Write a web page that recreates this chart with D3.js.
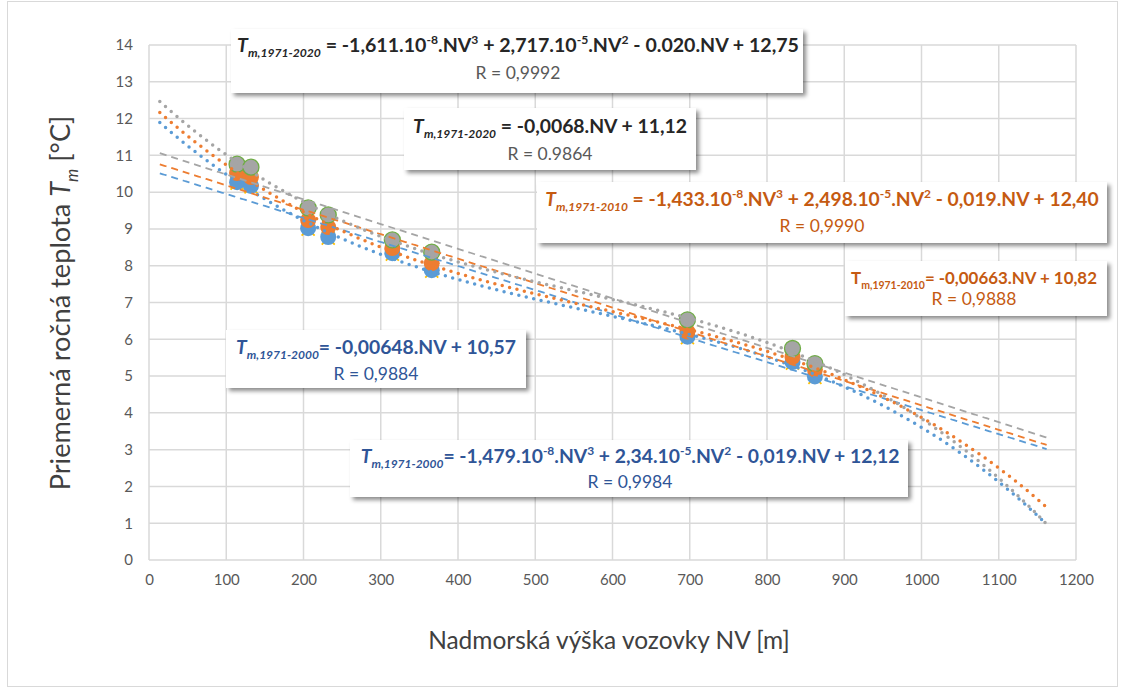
<!DOCTYPE html>
<html><head><meta charset="utf-8">
<script src="https://cdn.jsdelivr.net/npm/d3@7"></script>
<style>body{margin:0;background:#fff}svg{display:block}</style>
</head><body>
<svg id="chart" width="1125" height="688"></svg>
<script>
// ---------------- DATA ----------------
const NV = [114, 132, 206, 232, 315, 366, 697, 833, 862];
const T_1971_2000 = [10.27, 10.17, 9.02, 8.78, 8.34, 7.88, 6.07, 5.38, 4.99];
const T_1971_2010 = [10.52, 10.41, 9.24, 9.05, 8.48, 8.07, 6.21, 5.52, 5.18];
const T_1971_2020 = [10.76, 10.68, 9.57, 9.38, 8.70, 8.37, 6.53, 5.75, 5.34];
const xTicks = [0,100,200,300,400,500,600,700,800,900,1000,1100,1200];
const yTicks = [0,1,2,3,4,5,6,7,8,9,10,11,12,13,14];
const forecastBackward = 100, forecastForward = 300;

// equation labels (segments: text, italic flag, sub/sup)
const eqA = [["T","i"],["m,1971-2020","i","sub"],[" = -1,611.10"],["-8","","sup"],[".NV"],["3","","sup"],[" + 2,717.10"],["-5","","sup"],[".NV"],["2","","sup"],[" - 0.020.NV + 12,75"]];
const eqB = [["T","i"],["m,1971-2020","i","sub"],[" = -0,0068.NV + 11,12"]];
const eqC = [["T","i"],["m,1971-2010","i","sub"],[" = -1,433.10"],["-8","","sup"],[".NV"],["3","","sup"],[" + 2,498.10"],["-5","","sup"],[".NV"],["2","","sup"],[" - 0,019.NV + 12,40"]];
const eqD = [["T"],["m,1971-2010","","sub"],["= -0,00663.NV + 10,82"]];
const eqE = [["T","i"],["m,1971-2000","i","sub"],["= -0,00648.NV + 10,57"]];
const eqF = [["T","i"],["m,1971-2000","i","sub"],["= -1,479.10"],["-8","","sup"],[".NV"],["3","","sup"],[" + 2,34.10"],["-5","","sup"],[".NV"],["2","","sup"],[" - 0,019.NV + 12,12"]];
const rA = "R = 0,9992", rB = "R = 0.9864", rC = "R = 0,9990", rD = "R = 0,9888", rE = "R = 0,9884", rF = "R = 0,9984";
const xTitle = "Nadmorská výška vozovky NV [m]";
const yTitle = [["Priemerná ročná  teplota  "],["T","i"],["m","i","sub"],["  [°C]"]];

// ---------------- LAYOUT ----------------
const svg = d3.select("#chart");
const FONT = "Lato, 'Open Sans', sans-serif";
const x = d3.scaleLinear().domain([0,1200]).range([149,1076]);
const y = d3.scaleLinear().domain([0,14]).range([560,45]);
const BLUE="#5B9BD5", ORANGE="#ED7D31", GRAY="#A5A5A5", YELLOW="#FFC000", GREEN="#70AD47";

svg.append("rect").attr("x",7.5).attr("y",1.5).attr("width",1110).attr("height",685)
  .attr("fill","#fff").attr("stroke","#d9d9d9").attr("stroke-width",1);

const defs = svg.append("defs");
const f = defs.append("filter").attr("id","shadow").attr("x","-10%").attr("y","-20%").attr("width","130%").attr("height","160%");
f.append("feDropShadow").attr("dx",3).attr("dy",3).attr("stdDeviation",2).attr("flood-color","#000").attr("flood-opacity",0.45);

// grid
const g = svg.append("g");
g.selectAll(".hg").data(yTicks).join("line")
  .attr("x1",x(0)).attr("x2",x(1200)).attr("y1",d=>y(d)).attr("y2",d=>y(d))
  .attr("stroke","#d9d9d9").attr("stroke-width",1.5);
g.selectAll(".vg").data(xTicks).join("line").attr("class","vg")
  .attr("y1",y(0)).attr("y2",y(14)).attr("x1",d=>x(d)).attr("x2",d=>x(d))
  .attr("stroke","#d9d9d9").attr("stroke-width",1.5);

// axes
const yAxis = d3.axisLeft(y).tickValues(yTicks).tickSize(0).tickPadding(16).tickFormat(d3.format("d"));
const xAxis = d3.axisBottom(x).tickValues(xTicks).tickSize(0).tickPadding(14).tickFormat(d3.format("d"));
const ya = svg.append("g").attr("transform",`translate(${x(0)},0)`).call(yAxis);
const xa = svg.append("g").attr("transform",`translate(0,${y(0)})`).call(xAxis);
[ya,xa].forEach(a=>{a.select(".domain").remove();
  a.selectAll("text").attr("fill","#595959").style("font-family",FONT).style("font-size","15px");});

// markers
const pts = (arr)=>NV.map((v,i)=>[v,arr[i]]);
const mk = svg.append("g");
const R = 8;
mk.selectAll(".yx").data(pts(T_1971_2000)).join("path")
  .attr("d",d=>{const cx=x(d[0]),cy=y(d[1])+1,s=6.5;return `M${cx-s},${cy-s}L${cx+s},${cy+s}M${cx-s},${cy+s}L${cx+s},${cy-s}`;})
  .attr("stroke",YELLOW).attr("stroke-width",1.8);
mk.selectAll(".b").data(pts(T_1971_2000)).join("circle")
  .attr("cx",d=>x(d[0])).attr("cy",d=>y(d[1])).attr("r",R).attr("fill",BLUE);
mk.selectAll(".o").data(pts(T_1971_2010)).join("circle")
  .attr("cx",d=>x(d[0])).attr("cy",d=>y(d[1])).attr("r",R).attr("fill",ORANGE);
mk.selectAll(".gr").data(pts(T_1971_2020)).join("circle")
  .attr("cx",d=>x(d[0])).attr("cy",d=>y(d[1])).attr("r",R).attr("fill",GRAY)
  .attr("stroke",GREEN).attr("stroke-width",1.3);

// least squares polynomial trendlines
function polyfit(xs, ys, deg){
  const n=deg+1, A=[], B=[];
  const s=xs.map(v=>v/1000);
  for(let r=0;r<n;r++){A.push([]);for(let c=0;c<n;c++)A[r].push(d3.sum(s,v=>Math.pow(v,r+c)));B.push(d3.sum(s,(v,i)=>Math.pow(v,r)*ys[i]));}
  for(let i=0;i<n;i++){let p=i;for(let k=i+1;k<n;k++)if(Math.abs(A[k][i])>Math.abs(A[p][i]))p=k;
    [A[i],A[p]]=[A[p],A[i]];[B[i],B[p]]=[B[p],B[i]];
    for(let k=i+1;k<n;k++){const m=A[k][i]/A[i][i];for(let c=i;c<n;c++)A[k][c]-=m*A[i][c];B[k]-=m*B[i];}}
  const co=new Array(n).fill(0);
  for(let i=n-1;i>=0;i--){let sm=B[i];for(let c=i+1;c<n;c++)sm-=A[i][c]*co[c];co[i]=sm/A[i][i];}
  return v=>co.reduce((acc,c,k)=>acc+c*Math.pow(v/1000,k),0);
}
const x0 = d3.min(NV)-forecastBackward, x1 = d3.max(NV)+forecastForward;
const xs = d3.range(x0, x1+0.001, 2);
const line = d3.line().x(d=>x(d[0])).y(d=>y(d[1]));
const tl = svg.append("g").attr("fill","none");
[[T_1971_2000,BLUE],[T_1971_2010,ORANGE],[T_1971_2020,GRAY]].forEach(([arr,col])=>{
  const lin = polyfit(NV,arr,1), cub = polyfit(NV,arr,3);
  tl.append("path").attr("d",line(xs.map(v=>[v,lin(v)]))).attr("stroke",col)
    .attr("stroke-width",1.8).attr("stroke-dasharray","7 5");
  tl.append("path").attr("d",line(xs.map(v=>[v,cub(v)]))).attr("stroke",col)
    .attr("stroke-width",3.5).attr("stroke-linecap","round").attr("stroke-dasharray","0 7.6");
});

// rich text helper
function rich(sel, segs, size, weight, color){
  const t = sel.append("text").attr("text-anchor","middle").attr("fill",color)
    .style("font-family",FONT).style("font-weight",weight);
  function build(s){
    t.selectAll("tspan").remove(); t.style("font-size",s+"px");
    let prev=0;
    segs.forEach(([txt,it,pos])=>{
      const sh = pos==="sub"? 0.28*s : pos==="sup"? -0.42*s : 0;
      t.append("tspan").text(txt).attr("dy",sh-prev)
        .style("font-style",it==="i"?"italic":"normal")
        .style("font-size",(pos?0.62*s:s)+"px");
      prev=sh;
    });
  }
  build(size);
  return {t,build};
}
function fitRich(sel, segs, weight, color, targetW){
  const r = rich(sel, segs, 20, weight, color);
  const w = r.t.node().getBBox().width;
  r.build(20*targetW/w);
  return r.t;
}
function box(cx, bx, by, bw, bh, segs, rtxt, col, rcol, l1y, l2y, targetW){
  const grp = svg.append("g");
  grp.append("rect").attr("x",bx).attr("y",by).attr("width",bw).attr("height",bh)
    .attr("fill","#fff").attr("filter","url(#shadow)");
  fitRich(grp, segs, "bold", col, targetW).attr("x",cx).attr("y",l1y);
  grp.append("text").attr("x",cx).attr("y",l2y).attr("text-anchor","middle").attr("fill",rcol)
    .style("font-family",FONT).style("font-size","17.5px").text(rtxt);
}
box(518, 231, 29, 572, 64, eqA, rA, "#262626", "#595959", 52, 79, 562);
box(550, 404, 108, 292, 62, eqB, rB, "#262626", "#595959", 133, 160, 274);
box(822, 537, 182, 570, 61, eqC, rC, "#C55A11", "#C55A11", 206, 232, 554);
box(974, 845, 261, 262, 55, eqD, rD, "#C55A11", "#C55A11", 284, 305, 246);
box(376, 226, 330, 300, 58, eqE, rE, "#2F5597", "#2F5597", 354, 380, 280);
box(630, 350, 440, 558, 57, eqF, rF, "#2F5597", "#2F5597", 463, 488, 539);

// axis titles
fitRich(svg, [[xTitle]], "normal", "#404040", 362).attr("x",609).attr("y",649);
fitRich(svg.append("g").attr("transform","translate(70,303) rotate(-90)"), yTitle, "normal", "#404040", 375)
  .attr("x",0).attr("y",0);
</script>
</body></html>
